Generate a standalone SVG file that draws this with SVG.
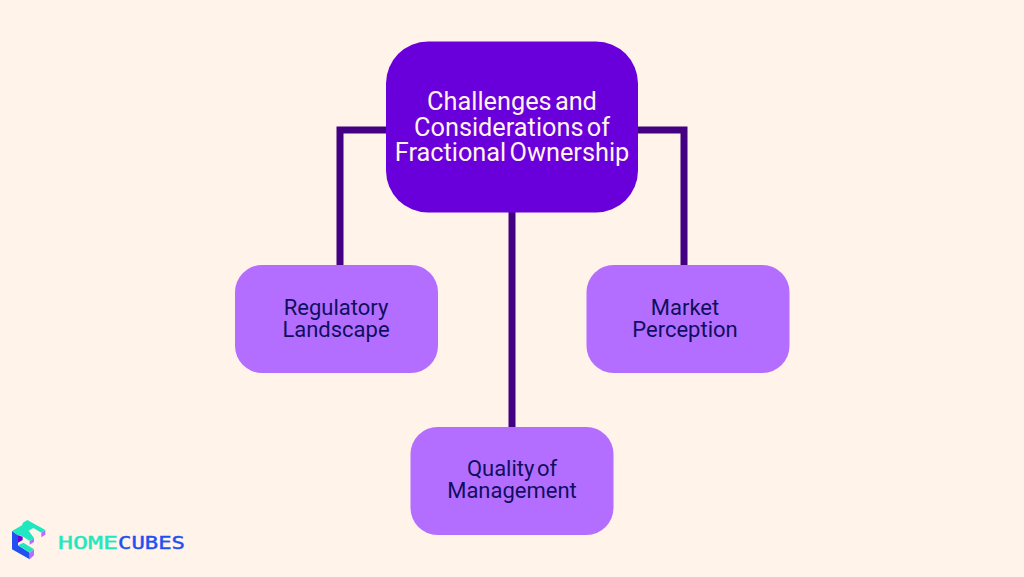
<svg xmlns="http://www.w3.org/2000/svg" width="1024" height="577" viewBox="0 0 1024 577">
<style>
.big{font:450 25.3px Roboto,"Liberation Sans",sans-serif;fill:#fff3ea;text-anchor:middle;word-spacing:-3px}
.small{font:450 22px Roboto,"Liberation Sans",sans-serif;fill:#0f0f60;text-anchor:middle;word-spacing:-3px}
.child{fill:#b46eff}
.logo{font:400 17px "DejaVu Sans Mono",monospace;stroke-width:.4}
</style>
<rect width="1024" height="577" fill="#fff3ea"/>
<g id="connectors" fill="none" stroke="#430083" stroke-width="7">
<path d="M386 130H340V265"/>
<path d="M638 130H684V265"/>
<path d="M512 212V428"/>
</g>
<g id="root"><rect x="386" y="41.500" width="252" height="171" rx="42" fill="#6900dc"/>
<text class="big" x="512" y="109.500">Challenges and</text>
<text class="big" x="512" y="135.500">Considerations of</text>
<text class="big" x="512" y="160.500">Fractional Ownership</text></g>
<g id="regulatory"><rect class="child" x="235" y="265" width="203" height="108" rx="27"/>
<text class="small" x="336" y="314.500">Regulatory</text>
<text class="small" x="336" y="336.500">Landscape</text></g>
<g id="market"><rect class="child" x="586.500" y="265" width="203" height="108" rx="27"/>
<text class="small" x="685" y="314.500">Market</text>
<text class="small" x="685" y="336.500">Perception</text></g>
<g id="quality"><rect class="child" x="410.500" y="427" width="203" height="108" rx="27"/>
<text class="small" x="512" y="475.500">Quality of</text>
<text class="small" x="512" y="497.500">Management</text></g>
<g id="logo">
<g transform="translate(8 516) scale(.3333)">
<path d="M12 45L30 58V88L65 110V130L12 100Z" fill="#2050f0"/>
<path d="M45 22L60 30V44L45 36Z" fill="#2050f0"/>
<path d="M65 75L78 66V78L65 86Z M100 50L112 42V56L100 64Z M65 110L78 100V118L65 130Z" fill="#b46eff"/>
<path d="M45 20L58 12L112 42L100 50L76 36L62 44L78 66L65 75L42 60L30 58L12 45L42 28Z" fill="#1fe8c0"/>
<path d="M30 88L46 80L78 100L65 110Z" fill="#1fe8c0"/>
<path d="M30 58L44 62V72L30 80Z" fill="#6900dc"/>
</g>
<text class="logo" y="549"><tspan x="58" textLength="60" lengthAdjust="spacingAndGlyphs" fill="#1fe8c0" stroke="#1fe8c0">HOME</tspan><tspan x="118" textLength="67" lengthAdjust="spacingAndGlyphs" fill="#2050f0" stroke="#2050f0">CUBES</tspan></text>
</g>
</svg>
